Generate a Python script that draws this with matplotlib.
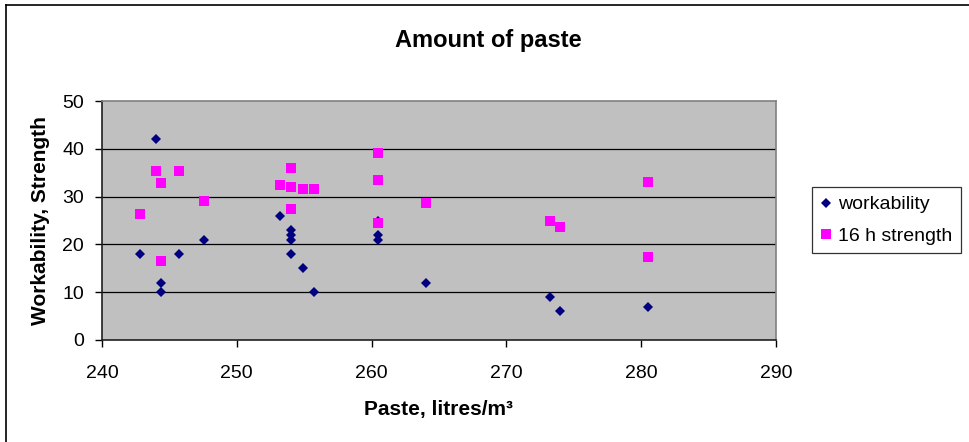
import matplotlib
matplotlib.use('Agg')
import matplotlib.pyplot as plt
from matplotlib.lines import Line2D

plt.rcParams['font.family'] = ['Liberation Sans', 'DejaVu Sans']

# paste volume (litres/m3) for each mix
work_x = [242.8, 244.0, 244.4, 244.4, 245.7, 247.6, 253.2, 254.0, 254.0, 254.0,
          254.0, 254.9, 255.7, 260.5, 260.5, 260.5, 264.0, 273.2, 274.0, 280.5]
workability = [18, 42, 12, 10, 18, 21, 26, 23, 22, 21,
               18, 15, 10, 25, 22, 21, 12, 9, 6, 7]

str_x = [242.8, 244.0, 244.4, 244.4, 245.7, 247.6, 253.2, 254.0, 254.0, 254.0,
         254.9, 255.7, 260.5, 260.5, 260.5, 264.0, 273.2, 274.0, 280.5, 280.5]
strength = [26.4, 35.4, 32.8, 16.5, 35.4, 29.1, 32.4, 35.9, 32.0, 27.4,
            31.5, 31.5, 39.1, 33.4, 24.4, 28.7, 24.8, 23.7, 33.0, 17.4]

x_ticks = [240, 250, 260, 270, 280, 290]
y_ticks = [0, 10, 20, 30, 40, 50]

W, H = 970, 442
fig = plt.figure(figsize=(W / 100, H / 100), dpi=100)
ax = fig.add_axes([102 / W, 1 - 340 / H, 674 / W, 239 / H])
ax.set_facecolor('#C0C0C0')

ax.plot(work_x, workability, 'D', color='#000080', markersize=5.4,
        markeredgewidth=0, label='workability', zorder=3)
ax.plot(str_x, strength, 's', color='#FF00FF', markersize=7.8,
        markeredgewidth=0, label='16 h strength', zorder=4)

ax.set_xlim(240, 290)
ax.set_ylim(0, 50)
ax.set_xticks(x_ticks)
ax.set_yticks(y_ticks)
for v in y_ticks[1:-1]:
    ax.axhline(v, color='black', linewidth=0.9, zorder=1)

ax.tick_params(axis='x', direction='out', length=5, width=1, pad=13, labelsize=14)
ax.tick_params(axis='y', direction='out', length=5, width=1, pad=8, labelsize=14)
for side in ['top', 'right']:
    ax.spines[side].set_color('#808080')
    ax.spines[side].set_linewidth(1.2)
for side in ['left', 'bottom']:
    ax.spines[side].set_color('#202020')
    ax.spines[side].set_linewidth(1.2)

ax.set_xlabel('Paste, litres/m³', fontsize=15, fontweight='bold', labelpad=13)
ax.set_ylabel('Workability, Strength', fontsize=15, fontweight='bold', labelpad=9)
fig.text(488 / W, 1 - 41 / H, 'Amount of paste', fontsize=17, fontweight='bold',
         ha='center', va='center')

leg = fig.legend(loc='upper left', bbox_to_anchor=(812 / W, 1 - 187 / H),
                 fontsize=14, frameon=True, fancybox=False, handlelength=0.5,
                 handletextpad=0.4, borderpad=0.45, labelspacing=0.7,
                 borderaxespad=0)
leg.get_frame().set_edgecolor('black')
leg.get_frame().set_linewidth(0.9)

# outer chart border (top and left edges)
fig.add_artist(Line2D([6 / W, 1], [1 - 5 / H, 1 - 5 / H], color='black', linewidth=1.2))
fig.add_artist(Line2D([6 / W, 6 / W], [0, 1 - 5 / H], color='black', linewidth=1.2))

fig.savefig('out.png', dpi=100)
